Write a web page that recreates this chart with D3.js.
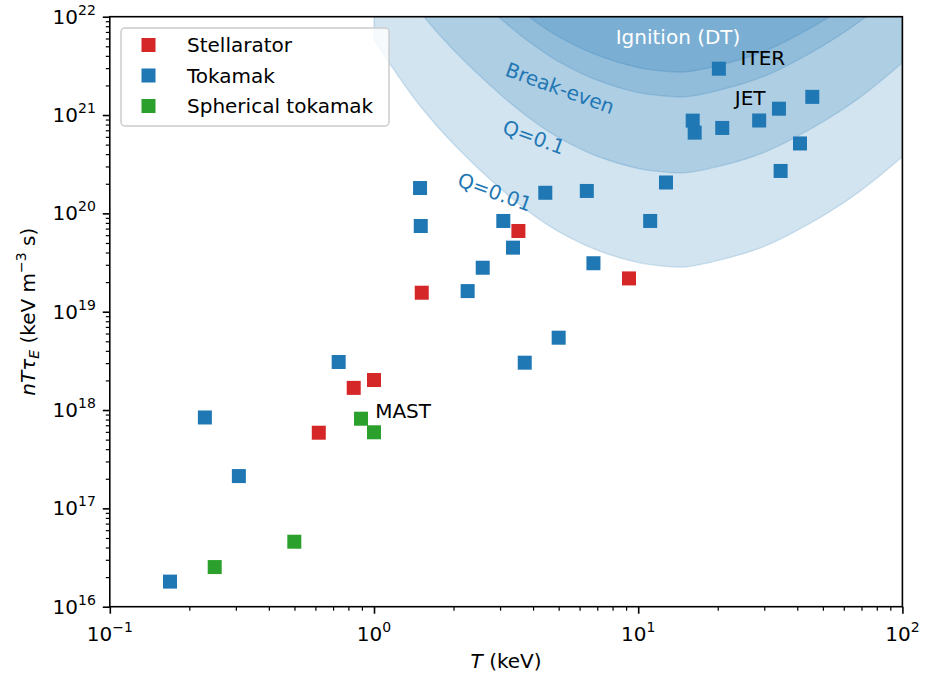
<!DOCTYPE html>
<html>
<head>
<meta charset="utf-8">
<script src="https://cdn.jsdelivr.net/npm/d3@7"></script>
<style>
  html, body { margin: 0; padding: 0; background: #fff; }
  svg { display: block; font-family: "DejaVu Sans", sans-serif; }
</style>
</head>
<body>
<svg id="chart" width="927" height="675"></svg>
<script>
// ---------------- data ----------------
const seriesNames = ["Stellarator", "Tokamak", "Spherical tokamak"];
const seriesColors = ["#d62728", "#1f77b4", "#2ca02c"];

// [T (keV), n T tau_E (keV m^-3 s)]
const stellarator = [[0.618,5.88e17],[0.838,1.68e18],[1.0,2.02e18],[1.516,1.56e19],[3.52,6.62e19],[9.23,2.18e19]];
const tokamak = [[0.169,1.80e16],[0.229,8.4e17],[0.308,2.13e17],[0.735,3.08e18],[1.494,1.81e20],[1.503,7.44e19],
  [2.262,1.62e19],[2.579,2.80e19],[3.086,8.37e19],[3.358,4.48e19],[3.72,3.03e18],[4.45,1.62e20],[5.0,5.44e18],
  [6.39,1.69e20],[6.77,3.11e19],[11.1,8.37e19],[12.74,2.06e20],[16.08,8.77e20],[16.36,6.62e20],[20.2,2.96e21],
  [20.8,7.39e20],[28.7,8.8e20],[34.1,1.16e21],[34.6,2.70e20],[40.96,5.14e20],[45.6,1.53e21]];
const spherical = [[0.2495,2.53e16],[0.4993,4.58e16],[0.893,8.16e17],[1.0,5.94e17]];

// Q contours (triple product required), sampled on a common temperature grid
const curveT = [1,1.2,1.5,2,3,4,5,7,10,13,15,20,30,50,70,100];
const curveQ001 = [5.82e21,2.79e21,1.22e21,5.07e20,1.80e20,9.66e19,6.53e19,4.22e19,3.16e19,2.88e19,2.85e19,3.31e19,4.62e19,9.44e19,1.72e20,3.76e20];
const curveQ01 = [5.26e22,2.52e22,1.10e22,4.58e21,1.63e21,8.73e20,5.90e20,3.81e20,2.86e20,2.61e20,2.58e20,2.99e20,4.18e20,8.53e20,1.55e21,3.40e21];
const curveBreakEven = [3.12e23,1.49e23,6.52e22,2.72e22,9.64e21,5.18e21,3.50e21,2.26e21,1.69e21,1.55e21,1.53e21,1.77e21,2.48e21,5.06e21,9.20e21,2.01e22];
const curveIgnition = [5.60e23,2.68e23,1.17e23,4.88e22,1.73e22,9.29e21,6.28e21,4.06e21,3.04e21,2.77e21,2.74e21,3.18e21,4.45e21,9.08e21,1.65e22,3.61e22];

// curve labels: [text, T, value]
const curveLabels = [["Ignition (DT)",14.15,6.2e21],["Break-even",5.06,1.88e21],["Q=0.1",4.03,5.98e20],["Q=0.01",2.87,1.65e20]];
// device annotations: [text, T, value]
const deviceLabels = [["ITER",24.4,3.23e21],["JET",23.2,1.26e21],["MAST",1.01,8.3e17]];

const xMajor = [0.1, 1, 10, 100];
const xExp = ["\u22121", "0", "1", "2"];
const yMajor = [1e16,1e17,1e18,1e19,1e20,1e21,1e22];
const yExp = ["16","17","18","19","20","21","22"];

// ---------------- layout ----------------
const svg = d3.select("#chart");
const L = 109.8, Tp = 16.7, R = 902.4, B = 606.7;
const x = d3.scaleLog().domain([0.1, 100]).range([L, R]);
const y = d3.scaleLog().domain([1e16, 1e22]).range([B, Tp]);
const blue = "#1f77b4";

svg.append("defs").append("clipPath").attr("id","plotclip")
  .append("rect").attr("x",L).attr("y",Tp).attr("width",R-L).attr("height",B-Tp);

// bands
const bandG = svg.append("g").attr("clip-path","url(#plotclip)");
const curves = [curveQ001, curveQ01, curveBreakEven, curveIgnition];
const area = d3.area()
  .x(d => x(d[0]))
  .y0(() => y(1e25))
  .y1(d => y(d[1]))
  .curve(d3.curveCatmullRom.alpha(0.5));
curves.forEach(c => {
  const pts = curveT.map((t,i) => [t, c[i]]);
  bandG.append("path").attr("d", area(pts))
    .attr("fill", blue).attr("fill-opacity", 0.2)
    .attr("stroke", blue).attr("stroke-opacity", 0.18).attr("stroke-width", 1.4);
});

// points
const allSeries = [stellarator, tokamak, spherical];
const ms = 14;
allSeries.forEach((s, k) => {
  svg.append("g").selectAll("rect").data(s).join("rect")
    .attr("x", d => x(d[0]) - ms/2).attr("y", d => y(d[1]) - ms/2)
    .attr("width", ms).attr("height", ms)
    .attr("fill", seriesColors[k]);
});

// curve labels
curveLabels.forEach((l, i) => {
  const px = x(l[1]), py = y(l[2]);
  svg.append("text")
    .attr("transform", i === 0 ? `translate(${px},${py})` : `translate(${px},${py}) rotate(20)`)
    .attr("text-anchor","middle").attr("dy","0.36em")
    .attr("font-size", 20)
    .attr("fill", i === 0 ? "#ffffff" : blue)
    .text(l[0]);
});

// device labels
deviceLabels.forEach(l => {
  svg.append("text").attr("x", x(l[1])).attr("y", y(l[2]))
    .attr("font-size", 20).attr("fill","#000").text(l[0]);
});

// axes
const axG = svg.append("g");
const minor = [];
[0.1,1,10].forEach(d => { for (let m=2;m<=9;m++) minor.push(d*m); });
const yMinor = [];
yMajor.slice(0,-1).forEach(d => { for (let m=2;m<=9;m++) yMinor.push(d*m); });

const xAx = axG.append("g").attr("transform",`translate(0,${B})`)
  .call(d3.axisBottom(x).tickValues(xMajor).tickSize(7).tickFormat(() => ""));
const xAxMin = axG.append("g").attr("transform",`translate(0,${B})`)
  .call(d3.axisBottom(x).tickValues(minor).tickSize(4).tickFormat(() => ""));
const yAx = axG.append("g").attr("transform",`translate(${L},0)`)
  .call(d3.axisLeft(y).tickValues(yMajor).tickSize(7).tickFormat(() => ""));
const yAxMin = axG.append("g").attr("transform",`translate(${L},0)`)
  .call(d3.axisLeft(y).tickValues(yMinor).tickSize(4).tickFormat(() => ""));
[xAx, xAxMin, yAx, yAxMin].forEach(a => { a.select(".domain").remove(); a.selectAll("text").remove(); });
xAx.selectAll("line").attr("stroke","#000").attr("stroke-width",1.6);
yAx.selectAll("line").attr("stroke","#000").attr("stroke-width",1.6);
xAxMin.selectAll("line").attr("stroke","#000").attr("stroke-width",1.2);
yAxMin.selectAll("line").attr("stroke","#000").attr("stroke-width",1.2);

// spines
svg.append("rect").attr("x",L).attr("y",Tp).attr("width",R-L).attr("height",B-Tp)
  .attr("fill","none").attr("stroke","#000").attr("stroke-width",1.6);

// tick labels
xMajor.forEach((v,i) => {
  const t = svg.append("text").attr("x", x(v)).attr("y", B + 34)
    .attr("text-anchor","middle").attr("font-size",20).attr("fill","#000");
  t.append("tspan").text("10");
  t.append("tspan").attr("dy",-9).attr("font-size",14).text(xExp[i]);
});
yMajor.forEach((v,i) => {
  const t = svg.append("text").attr("x", L - 14).attr("y", y(v) + 7)
    .attr("text-anchor","end").attr("font-size",20).attr("fill","#000");
  t.append("tspan").text("10");
  t.append("tspan").attr("dy",-9).attr("font-size",14).text(yExp[i]);
});

// axis labels
const xl = svg.append("text").attr("x",(L+R)/2).attr("y",668)
  .attr("text-anchor","middle").attr("font-size",20).attr("fill","#000");
xl.append("tspan").attr("font-style","italic").text("T");
xl.append("tspan").text(" (keV)");

const yl = svg.append("text").attr("transform",`translate(35,${(Tp+B)/2}) rotate(-90)`)
  .attr("text-anchor","middle").attr("font-size",20).attr("fill","#000");
yl.append("tspan").attr("font-style","italic").text("nT\u03C4");
yl.append("tspan").attr("font-style","italic").attr("font-size",14).attr("dy",4).text("E");
yl.append("tspan").attr("dy",-4).text(" (keV m");
yl.append("tspan").attr("font-size",14).attr("dy",-9).text("\u22123");
yl.append("tspan").attr("dy",9).text(" s)");

// legend
const lg = svg.append("g");
lg.append("rect").attr("x",121).attr("y",28).attr("width",268).attr("height",98).attr("rx",4)
  .attr("fill","#fff").attr("fill-opacity",0.8).attr("stroke","#cccccc").attr("stroke-width",1.5);
seriesNames.forEach((n,i) => {
  const cy = 45 + i*30.5;
  lg.append("rect").attr("x",141.5).attr("y",cy-7).attr("width",14).attr("height",14).attr("fill",seriesColors[i]);
  lg.append("text").attr("x",187).attr("y",cy+7).attr("font-size",20).attr("fill","#000").text(n);
});
</script>
</body>
</html>
